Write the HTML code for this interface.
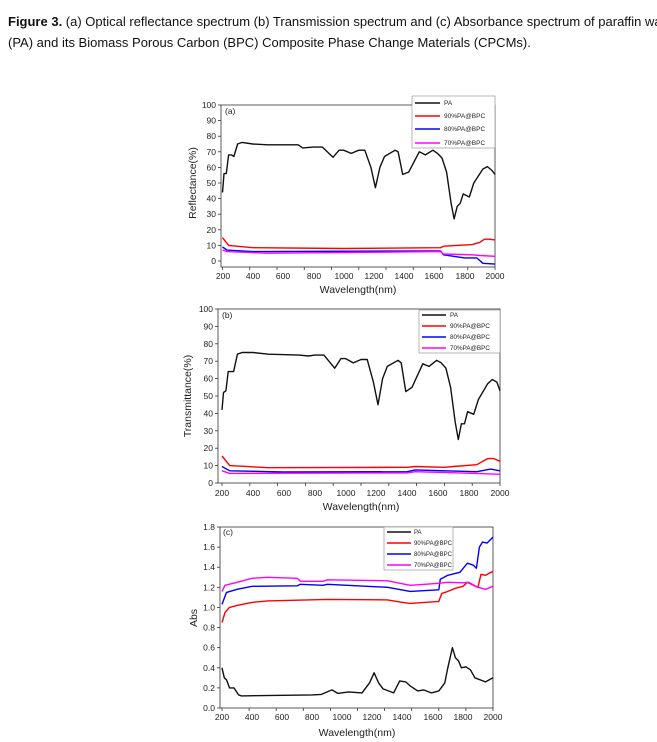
<!DOCTYPE html>
<html><head><meta charset="utf-8"><style>
body{margin:0;background:#fff;width:657px;height:742px;overflow:hidden;position:relative;font-family:"Liberation Sans",sans-serif}
.h{position:absolute;left:8px;font-size:13px;color:#111;white-space:nowrap}
svg{position:absolute;left:0;top:0}
svg text{font-family:"Liberation Sans",sans-serif;fill:#222}
</style></head><body>
<div class="h" style="top:14px"><b>Figure 3.</b> (a) Optical reflectance spectrum (b) Transmission spectrum and (c) Absorbance spectrum of paraffin wax</div>
<div class="h" style="top:35px">(PA) and its Biomass Porous Carbon (BPC) Composite Phase Change Materials (CPCMs).</div>
<svg id="s" width="657" height="742" xmlns="http://www.w3.org/2000/svg">
<g font-size="8.5">
<text x="216" y="108" text-anchor="end">100</text><text x="216" y="123.6" text-anchor="end">90</text><text x="216" y="139.2" text-anchor="end">80</text><text x="216" y="154.8" text-anchor="end">70</text><text x="216" y="170.4" text-anchor="end">60</text><text x="216" y="186" text-anchor="end">50</text><text x="216" y="201.6" text-anchor="end">40</text><text x="216" y="217.2" text-anchor="end">30</text><text x="216" y="232.8" text-anchor="end">20</text><text x="216" y="248.4" text-anchor="end">10</text><text x="216" y="264" text-anchor="end">0</text>
<text x="223" y="279" text-anchor="middle">200</text><text x="253" y="279" text-anchor="middle">400</text><text x="283" y="279" text-anchor="middle">600</text><text x="314" y="279" text-anchor="middle">800</text><text x="344" y="279" text-anchor="middle">1000</text><text x="374" y="279" text-anchor="middle">1200</text><text x="404" y="279" text-anchor="middle">1400</text><text x="434" y="279" text-anchor="middle">1600</text><text x="465" y="279" text-anchor="middle">1800</text><text x="495" y="279" text-anchor="middle">2000</text>
<text x="213" y="312" text-anchor="end">100</text><text x="213" y="329.4" text-anchor="end">90</text><text x="213" y="346.8" text-anchor="end">80</text><text x="213" y="364.2" text-anchor="end">70</text><text x="213" y="381.6" text-anchor="end">60</text><text x="213" y="399" text-anchor="end">50</text><text x="213" y="416.4" text-anchor="end">40</text><text x="213" y="433.8" text-anchor="end">30</text><text x="213" y="451.2" text-anchor="end">20</text><text x="213" y="468.6" text-anchor="end">10</text><text x="213" y="486" text-anchor="end">0</text>
<text x="222" y="496" text-anchor="middle">200</text><text x="253" y="496" text-anchor="middle">400</text><text x="284" y="496" text-anchor="middle">600</text><text x="315" y="496" text-anchor="middle">800</text><text x="346" y="496" text-anchor="middle">1000</text><text x="376" y="496" text-anchor="middle">1200</text><text x="407" y="496" text-anchor="middle">1400</text><text x="438" y="496" text-anchor="middle">1600</text><text x="469" y="496" text-anchor="middle">1800</text><text x="500" y="496" text-anchor="middle">2000</text>
<text x="215" y="530" text-anchor="end">1.8</text><text x="215" y="550.1" text-anchor="end">1.6</text><text x="215" y="570.2" text-anchor="end">1.4</text><text x="215" y="590.3" text-anchor="end">1.2</text><text x="215" y="610.4" text-anchor="end">1.0</text><text x="215" y="630.6" text-anchor="end">0.8</text><text x="215" y="650.7" text-anchor="end">0.6</text><text x="215" y="670.8" text-anchor="end">0.4</text><text x="215" y="690.9" text-anchor="end">0.2</text><text x="215" y="711" text-anchor="end">0.0</text>
<text x="222" y="720" text-anchor="middle">200</text><text x="252" y="720" text-anchor="middle">400</text><text x="282" y="720" text-anchor="middle">600</text><text x="312" y="720" text-anchor="middle">800</text><text x="342" y="720" text-anchor="middle">1000</text><text x="372" y="720" text-anchor="middle">1200</text><text x="402" y="720" text-anchor="middle">1400</text><text x="433" y="720" text-anchor="middle">1600</text><text x="463" y="720" text-anchor="middle">1800</text><text x="493" y="720" text-anchor="middle">2000</text>
</g>
<g font-size="10.5">
<text x="358" y="293" text-anchor="middle">Wavelength(nm)</text>
<text x="361" y="510" text-anchor="middle">Wavelength(nm)</text>
<text x="357" y="736" text-anchor="middle">Wavelength(nm)</text>
<text transform="translate(196,183) rotate(-90)" text-anchor="middle">Reflectance(%)</text>
<text transform="translate(191,396) rotate(-90)" text-anchor="middle">Transmittance(%)</text>
<text transform="translate(197,618) rotate(-90)" text-anchor="middle">Abs</text>
</g>
<g font-size="8.5"><text x="225" y="114">(a)</text><text x="222" y="318">(b)</text><text x="223" y="535">(c)</text></g>
<g id="plots"></g>
</svg>
<script>
var P=[
{L:221,R:495,x0:222.5,x1:495,yT:105,yB:261,v0:0,v1:100,bot:267,leg:[412,96,83,52],lx:[415,440,444],ly:[103,116,129,143],fs:6.5,
d:[
[[200,44],[210,56],[225,56],[240,68],[260,68],[275,67],[300,75],[330,76],[400,75],[500,74.5],[700,74.5],[730,72.5],[800,73],[860,73],[930,66.5],[970,71],[1000,71],[1050,69],[1100,71],[1140,71],[1180,60],[1210,47],[1240,60],[1270,67],[1340,71],[1360,70],[1390,55.5],[1430,57],[1500,70],[1540,68],[1590,71],[1620,69],[1650,66],[1680,57],[1710,37],[1730,27],[1750,35],[1770,37],[1790,43],[1830,41],[1860,50],[1920,59],[1950,60.5],[1980,58],[2000,55.5]],
[[200,15],[240,10],[400,8.5],[1000,8],[1640,8.5],[1660,9.5],[1850,10.5],[1900,12],[1930,14],[1960,14],[2000,13.5]],
[[200,9],[230,7],[400,6],[1640,6.5],[1660,4],[1800,2],[1880,2],[1920,-1.5],[2000,-2]],
[[200,7],[230,6],[500,5],[1640,6],[1660,4.5],[1850,4],[1900,3.5],[2000,3]]]},
{L:218,R:500,x0:222,x1:500,yT:309,yB:483,v0:0,v1:100,bot:483,leg:[419,310,81,43],lx:[422,446,450],ly:[315,326,337,348],fs:6.3,
d:[
[[200,42],[210,52],[225,53],[240,64],[260,64],[275,64],[300,74],[330,75],[400,75],[500,74],[700,73.5],[760,73],[800,73.5],[860,73.5],[930,66],[970,71.5],[1000,71.5],[1050,69],[1100,71],[1140,71],[1180,58],[1210,45],[1240,60],[1270,67],[1340,70.5],[1360,69],[1390,52.5],[1430,55],[1500,68.5],[1540,67],[1590,70.5],[1620,69],[1650,66],[1680,55],[1710,35],[1730,25],[1750,34],[1770,34],[1790,41],[1830,39.5],[1860,48],[1920,57],[1950,59.5],[1980,58],[2000,53]],
[[200,15.5],[250,10],[500,8.8],[1400,9],[1450,9.5],[1640,9],[1700,9.5],[1850,10.5],[1920,14],[1960,14],[2000,12.5]],
[[200,9.5],[250,7],[600,6.3],[1400,6.5],[1450,7.5],[1640,7],[1850,6.5],[1940,8],[2000,7]],
[[200,7],[250,5.5],[1400,5.8],[1450,6.5],[1850,5.5],[2000,5]]]},
{L:220,R:493,x0:222,x1:493,yT:527,yB:708,v0:0,v1:1.8,bot:708,leg:[384,527,69,43],lx:[387,411,414],ly:[532,543,554,565],fs:6,
d:[
[[200,0.4],[215,0.3],[230,0.28],[250,0.2],[280,0.2],[310,0.13],[330,0.12],[800,0.13],[860,0.135],[930,0.18],[970,0.145],[1040,0.16],[1130,0.15],[1180,0.25],[1210,0.35],[1240,0.25],[1270,0.19],[1340,0.15],[1380,0.27],[1420,0.26],[1450,0.22],[1500,0.17],[1540,0.18],[1590,0.15],[1640,0.17],[1680,0.25],[1700,0.4],[1730,0.6],[1750,0.5],[1770,0.47],[1790,0.4],[1820,0.41],[1850,0.38],[1880,0.3],[1950,0.26],[2000,0.3]],
[[200,0.85],[220,0.95],[250,1.0],[300,1.02],[400,1.05],[500,1.065],[900,1.08],[1300,1.075],[1400,1.05],[1450,1.04],[1640,1.06],[1660,1.14],[1700,1.16],[1750,1.19],[1800,1.21],[1830,1.25],[1870,1.22],[1900,1.2],[1920,1.33],[1950,1.32],[2000,1.36]],
[[200,1.03],[230,1.15],[300,1.18],[400,1.21],[700,1.215],[720,1.23],[870,1.22],[900,1.23],[1300,1.2],[1450,1.16],[1640,1.175],[1650,1.28],[1700,1.32],[1780,1.35],[1830,1.44],[1870,1.42],[1890,1.39],[1910,1.6],[1930,1.65],[1960,1.64],[2000,1.7]],
[[200,1.16],[220,1.22],[300,1.25],[400,1.29],[500,1.3],[700,1.29],[720,1.26],[870,1.26],[900,1.275],[1300,1.265],[1450,1.22],[1640,1.24],[1700,1.25],[1800,1.245],[1840,1.25],[1900,1.2],[1950,1.18],[2000,1.21]]]}
];
var C=["#111","#f00","#00f","#f0f"],N=["PA","90%PA@BPC","80%PA@BPC","70%PA@BPC"];
var g=document.getElementById("plots"),h="";
P.forEach(function(p){
 var X=function(w){return p.x0+(w-200)*(p.x1-p.x0)/1800},Y=function(v){return p.yB-(v-p.v0)*(p.yB-p.yT)/(p.v1-p.v0)};
 h+='<rect x="'+p.L+'" y="'+p.yT+'" width="'+(p.R-p.L)+'" height="'+(p.bot-p.yT)+'" fill="none" stroke="#333" stroke-width="0.8"/>';
 for(var i=0;i<=10;i++){var w=200+i*180;h+='<line x1="'+X(w)+'" x2="'+X(w)+'" y1="'+p.bot+'" y2="'+(p.bot+3)+'" stroke="#333" stroke-width="0.8"/>';}
 var nt=(p.v1==100)?10:9;for(var i=0;i<=nt;i++){var y=p.yB-i*(p.yB-p.yT)/nt;h+='<line x1="'+(p.L-3)+'" x2="'+p.L+'" y1="'+y+'" y2="'+y+'" stroke="#333" stroke-width="0.8"/>';}
 p.d.forEach(function(s,k){var pts=s.map(function(q){return X(q[0]).toFixed(1)+","+Y(q[1]).toFixed(1)}).join(" ");
  h+='<polyline points="'+pts+'" fill="none" stroke="'+C[k]+'" stroke-width="1.4" stroke-linejoin="round"/>';});
 var l=p.leg;h+='<rect x="'+l[0]+'" y="'+l[1]+'" width="'+l[2]+'" height="'+l[3]+'" fill="#fff" stroke="#888" stroke-width="0.6"/>';
 for(var k=0;k<4;k++){h+='<line x1="'+p.lx[0]+'" x2="'+p.lx[1]+'" y1="'+p.ly[k]+'" y2="'+p.ly[k]+'" stroke="'+C[k]+'" stroke-width="1.4"/><text x="'+p.lx[2]+'" y="'+(p.ly[k]+2.2)+'" font-size="'+p.fs+'">'+N[k]+'</text>';}
});
g.innerHTML=h;
</script>
</body></html>
